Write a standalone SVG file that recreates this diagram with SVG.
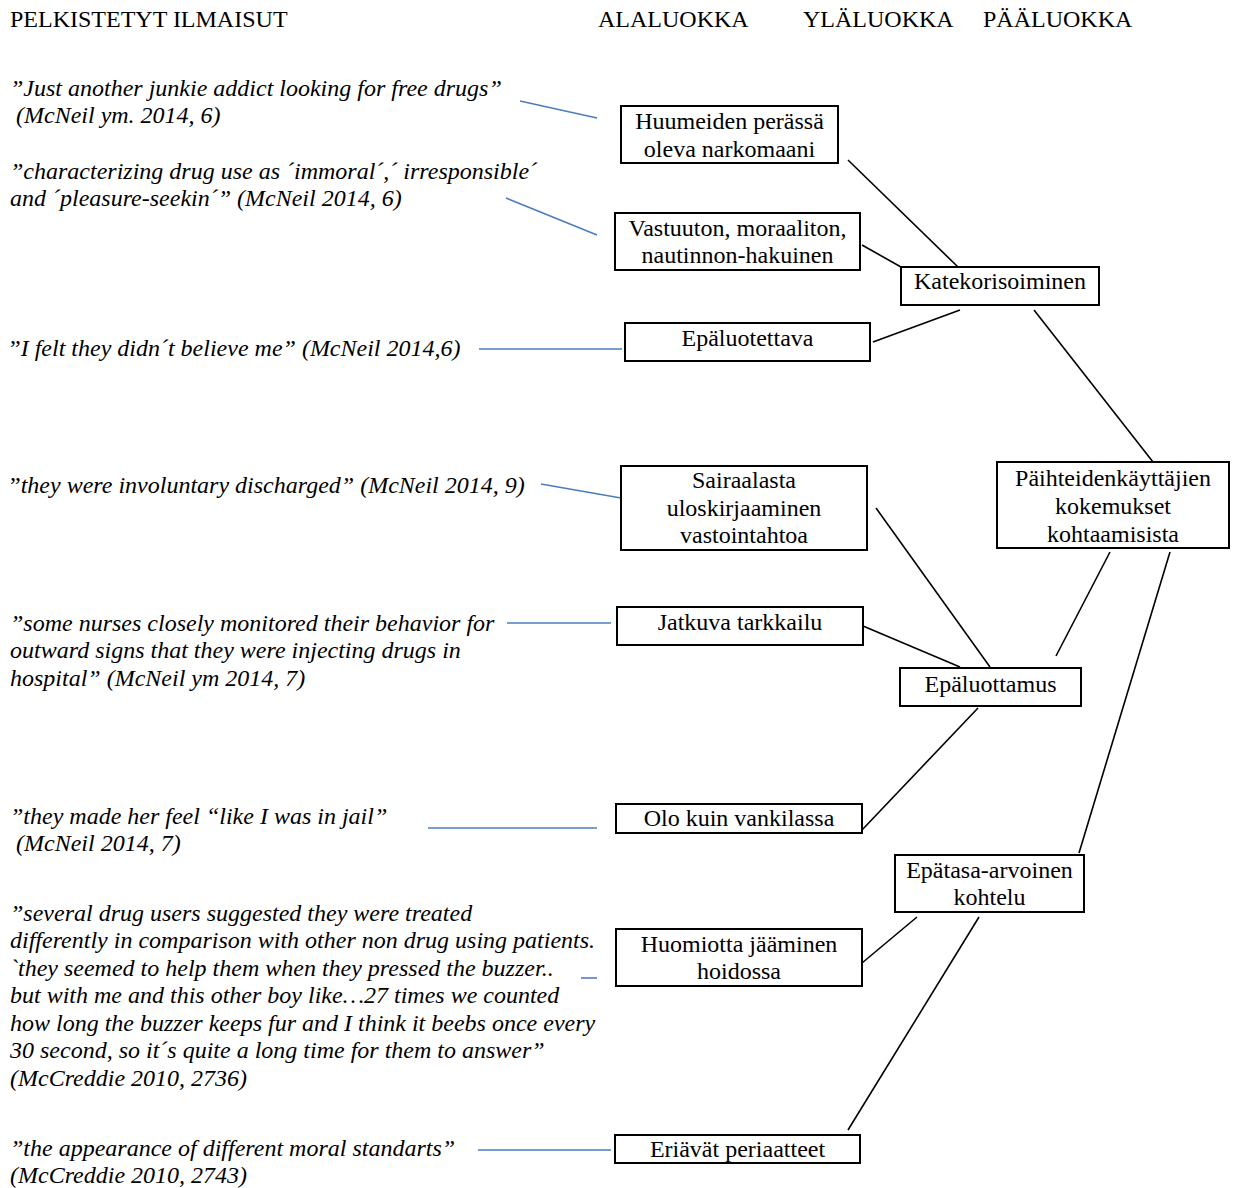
<svg xmlns="http://www.w3.org/2000/svg" width="1238" height="1188" viewBox="0 0 1238 1188">
<style>
text{font-family:"Liberation Serif","Times New Roman",serif;font-size:24px;fill:#000}
.q{font-style:italic}
.r{font-style:normal}
.c{text-anchor:middle}
.box{fill:#fff;stroke:#000;stroke-width:2}
.k{stroke:#000;stroke-width:1.6;fill:none}
.b{stroke:#4a7ebb;stroke-width:1.6;fill:none}
</style>
<rect width="1238" height="1188" fill="#fff"/>
<g id="headers">
<text x="10" y="27">PELKISTETYT ILMAISUT</text>
<text x="598" y="27">ALALUOKKA</text>
<text x="803" y="27">YLÄLUOKKA</text>
<text x="983" y="27">PÄÄLUOKKA</text>
</g>
<g id="connectors">
<line class="b" x1="520" y1="101" x2="597" y2="118"/>
<line class="b" x1="506" y1="198" x2="597" y2="235"/>
<line class="b" x1="479" y1="349" x2="622" y2="349"/>
<line class="b" x1="541" y1="484" x2="621" y2="498"/>
<line class="b" x1="507" y1="623" x2="611" y2="623"/>
<line class="b" x1="428" y1="828" x2="597" y2="828"/>
<line class="b" x1="581" y1="978" x2="597" y2="978"/>
<line class="b" x1="478" y1="1150" x2="611" y2="1150"/>
<line class="k" x1="848" y1="160" x2="958" y2="267"/>
<line class="k" x1="862" y1="245" x2="901" y2="267"/>
<line class="k" x1="873" y1="342" x2="960" y2="310"/>
<line class="k" x1="1034" y1="310" x2="1153" y2="462"/>
<line class="k" x1="876" y1="508" x2="990" y2="667"/>
<line class="k" x1="863" y1="626" x2="960" y2="667"/>
<line class="k" x1="1110" y1="552" x2="1056" y2="656"/>
<line class="k" x1="1170" y1="552" x2="1079" y2="853"/>
<line class="k" x1="978" y1="708" x2="862" y2="830"/>
<line class="k" x1="917" y1="917" x2="862" y2="963"/>
<line class="k" x1="979" y1="917" x2="848" y2="1130"/>
</g>
<g id="quotes">
<g id="q1"><text class="q" x="10" y="96">”Just another junkie addict looking for free drugs”</text><text class="q" x="16" y="123">(McNeil ym. 2014, 6)</text></g>
<g id="q2"><text class="q" x="10" y="179">”characterizing drug use as ´immoral´,´ irresponsible´</text><text class="q" x="10" y="206">and ´pleasure-seekin´” (McNeil 2014, 6)</text></g>
<g id="q3"><text class="q" x="10" y="356"><tspan class="r">”</tspan>I felt they didn´t believe me” (McNeil 2014,6)</text></g>
<g id="q4"><text class="q" x="10" y="493"><tspan class="r">”</tspan>they were involuntary discharged” (McNeil 2014, 9)</text></g>
<g id="q5"><text class="q" x="10" y="631">”some nurses closely monitored their behavior for</text><text class="q" x="10" y="658">outward signs that they were injecting drugs in</text><text class="q" x="10" y="686">hospital” (McNeil ym 2014, 7)</text></g>
<g id="q6"><text class="q" x="10" y="824">”they made her feel “like I was in jail”</text><text class="q" x="16" y="851">(McNeil 2014, 7)</text></g>
<g id="q7"><text class="q" x="10" y="921">”several drug users suggested they were treated</text><text class="q" x="10" y="948">differently in comparison with other non drug using patients.</text><text class="q" x="10" y="976">`they seemed to help them when they pressed the buzzer..</text><text class="q" x="10" y="1003">but with me and this other boy like…27 times we counted</text><text class="q" x="10" y="1031">how long the buzzer keeps fur and I think it beebs once every</text><text class="q" x="10" y="1058">30 second, so it´s quite a long time for them to answer”</text><text class="q" x="10" y="1086">(McCreddie 2010, 2736)</text></g>
<g id="q8"><text class="q" x="10" y="1156">”the appearance of different moral standarts”</text><text class="q" x="10" y="1183">(McCreddie 2010, 2743)</text></g>
</g>
<g id="n-huumeiden"><rect class="box" x="621" y="106" width="217" height="57"/><text class="c" x="729.5" y="129">Huumeiden perässä</text><text class="c" x="729.5" y="157">oleva narkomaani</text></g>
<g id="n-vastuuton"><rect class="box" x="615" y="213" width="245" height="57"/><text class="c" x="737.5" y="236">Vastuuton, moraaliton,</text><text class="c" x="737.5" y="263">nautinnon-hakuinen</text></g>
<g id="n-katekorisoiminen"><rect class="box" x="901" y="267" width="198" height="38"/><text class="c" x="1000" y="289">Katekorisoiminen</text></g>
<g id="n-epaluotettava"><rect class="box" x="625" y="323" width="245" height="38"/><text class="c" x="747.5" y="346">Epäluotettava</text></g>
<g id="n-sairaalasta"><rect class="box" x="621" y="466" width="246" height="84"/><text class="c" x="744" y="488">Sairaalasta</text><text class="c" x="744" y="516">uloskirjaaminen</text><text class="c" x="744" y="543">vastointahtoa</text></g>
<g id="n-paihteiden"><rect class="box" x="997" y="462" width="232" height="86"/><text class="c" x="1113" y="486">Päihteidenkäyttäjien</text><text class="c" x="1113" y="514">kokemukset</text><text class="c" x="1113" y="542">kohtaamisista</text></g>
<g id="n-jatkuva"><rect class="box" x="617" y="607" width="246" height="38"/><text class="c" x="740" y="630">Jatkuva tarkkailu</text></g>
<g id="n-epaluottamus"><rect class="box" x="900" y="668" width="181" height="38"/><text class="c" x="990.5" y="692">Epäluottamus</text></g>
<g id="n-olo"><rect class="box" x="616" y="804" width="246" height="29"/><text class="c" x="739" y="826">Olo kuin vankilassa</text></g>
<g id="n-epatasa"><rect class="box" x="895" y="855" width="189" height="57"/><text class="c" x="989.5" y="878">Epätasa-arvoinen</text><text class="c" x="989.5" y="905">kohtelu</text></g>
<g id="n-huomiotta"><rect class="box" x="616" y="929" width="246" height="57"/><text class="c" x="739" y="952">Huomiotta jääminen</text><text class="c" x="739" y="979">hoidossa</text></g>
<g id="n-eriavat"><rect class="box" x="615" y="1135" width="245" height="28"/><text class="c" x="737.5" y="1157">Eriävät periaatteet</text></g>
</svg>
